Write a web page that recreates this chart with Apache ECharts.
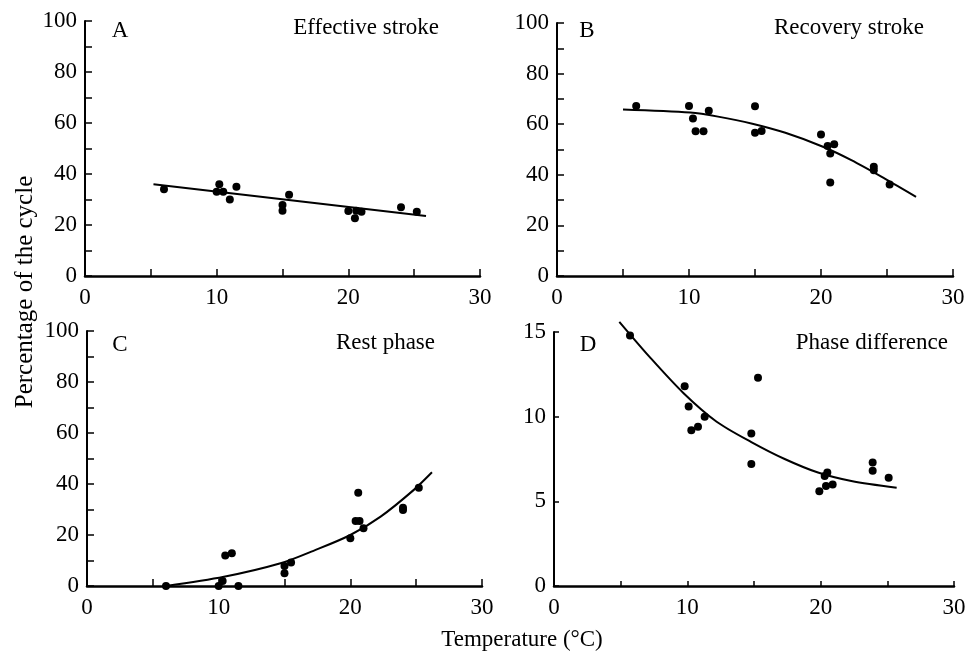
<!DOCTYPE html>
<html>
<head>
<meta charset="utf-8">
<script src="https://cdn.jsdelivr.net/npm/echarts@6/dist/echarts.min.js"></script>
<style>
html,body{margin:0;padding:0;background:#fff;}
#chart{width:970px;height:652px;}
</style>
</head>
<body>
<div id="chart"></div>
<script>
// ---- Data ----
// A: Effective stroke
const tempA = [6.0, 10.2, 10.0, 10.5, 11.0, 11.5, 15.0, 15.0, 15.5, 20.0, 20.5, 20.6, 21.0, 24.0, 25.2];
const valA  = [34.0, 36.0, 33.0, 33.0, 30.0, 35.0, 27.8, 25.6, 31.9, 25.5, 22.6, 25.6, 25.2, 27.0, 25.2];
const fitTempA = [5.2, 25.9];
const fitValA  = [36.0, 23.5];

// B: Recovery stroke
const tempB = [6.0, 10.0, 10.3, 10.5, 11.1, 11.5, 15.0, 15.0, 15.5, 20.0, 20.5, 21.0, 20.7, 20.7, 24.0, 24.0, 25.2];
const valB  = [67.2, 67.2, 62.3, 57.2, 57.2, 65.3, 67.1, 56.6, 57.3, 55.9, 51.4, 52.1, 48.4, 37.0, 43.2, 41.8, 36.2];
const fitTempB = [5.0, 10.1, 12.2, 14.8, 17.3, 20.1, 22.3, 24.8, 27.2];
const fitValB  = [65.8, 64.6, 63.0, 60.2, 56.6, 51.2, 45.8, 38.6, 31.3];

// C: Rest phase
const tempC = [6.0, 10.0, 10.3, 10.5, 11.0, 11.5, 15.0, 15.0, 15.5, 20.0, 20.4, 20.7, 20.6, 21.0, 24.0, 24.0, 25.2];
const valC  = [0.0, 0.0, 2.0, 12.0, 12.8, 0.0, 7.8, 5.0, 9.2, 18.7, 25.5, 25.5, 36.6, 22.6, 30.7, 29.8, 38.5];
const fitTempC = [6.0, 10.4, 14.7, 17.2, 20.0, 22.3, 24.8, 26.2];
const fitValC  = [0.0, 3.6, 8.9, 13.8, 20.0, 27.2, 37.6, 44.6];

// D: Phase difference
const tempD = [5.7, 9.8, 10.1, 10.3, 10.8, 11.3, 14.8, 14.8, 15.3, 19.9, 20.3, 20.5, 20.4, 20.9, 23.9, 23.9, 25.1];
const valD  = [14.8, 11.8, 10.6, 9.2, 9.4, 10.0, 9.0, 7.2, 12.3, 5.6, 6.5, 6.7, 5.9, 6.0, 7.3, 6.8, 6.4];
const fitTempD = [4.9, 7.2, 9.7, 12.2, 14.8, 17.3, 19.8, 22.3, 25.7];
const fitValD  = [15.6, 13.5, 11.4, 9.7, 8.5, 7.5, 6.7, 6.2, 5.8];

const xTicks = [0, 10, 20, 30];
const panelLetters = ['A', 'B', 'C', 'D'];
const panelTitles = ['Effective stroke', 'Recovery stroke', 'Rest phase', 'Phase difference'];
const yLabel = 'Percentage of the cycle';
const xLabel = 'Temperature (\u00B0C)';

// ---- Build chart ----
const FONT = '"Liberation Serif", "Times New Roman", serif';
const zip = (a, b) => a.map((v, i) => [v, b[i]]);

const grids = [
  {left: 85, top: 21, width: 395, height: 255},
  {left: 557, top: 23, width: 396, height: 253},
  {left: 87, top: 331, width: 395, height: 255},
  {left: 554, top: 332, width: 400, height: 254}
];

function xAxis(i) {
  return {
    gridIndex: i, type: 'value', min: 0, max: 30, interval: 5,
    axisLine: {onZero: false, lineStyle: {color: '#000', width: 2.5}},
    axisTick: {inside: true, length: i === 3 ? 5 : 7, lineStyle: {color: '#000', width: 1.5}},
    axisLabel: {
      color: '#000', fontFamily: FONT, fontSize: 23, margin: 10,
      formatter: v => (xTicks.indexOf(v) >= 0 ? String(v) : '')
    },
    splitLine: {show: false}
  };
}
function yAxis(i, max, interval, labelStep) {
  return {
    gridIndex: i, type: 'value', min: 0, max: max, interval: interval,
    axisLine: {onZero: false, lineStyle: {color: '#000', width: 2}},
    axisTick: {inside: true, length: i === 3 ? 5 : 7, lineStyle: {color: '#000', width: 1.5}},
    axisLabel: {
      color: '#000', fontFamily: FONT, fontSize: 23, margin: 8,
      formatter: v => (v % labelStep === 0 ? String(v) : '')
    },
    splitLine: {show: false}
  };
}

const scatterSets = [zip(tempA, valA), zip(tempB, valB), zip(tempC, valC), zip(tempD, valD)];
const fitSets = [zip(fitTempA, fitValA), zip(fitTempB, fitValB), zip(fitTempC, fitValC), zip(fitTempD, fitValD)];

const series = [];
for (let i = 0; i < 4; i++) {
  series.push({
    type: 'line', xAxisIndex: i, yAxisIndex: i, data: fitSets[i],
    smooth: i === 0 ? false : 0.3, showSymbol: false, clip: false,
    lineStyle: {color: '#000', width: 2}, silent: true, z: 2
  });
  series.push({
    type: 'scatter', xAxisIndex: i, yAxisIndex: i, data: scatterSets[i],
    symbol: 'circle', symbolSize: 8, itemStyle: {color: '#000', opacity: 1}, clip: false, z: 3
  });
}

const textPos = [
  {letter: [120, 31], title: [439, 28]},
  {letter: [587, 31], title: [924, 28]},
  {letter: [120, 345], title: [435, 343]},
  {letter: [588, 345], title: [948, 343]}
];
const graphics = [];
for (let i = 0; i < 4; i++) {
  graphics.push({
    type: 'text', x: textPos[i].letter[0], y: textPos[i].letter[1],
    style: {text: panelLetters[i], fill: '#000', font: '23px ' + FONT, textAlign: 'center', textVerticalAlign: 'middle'}
  });
  graphics.push({
    type: 'text', x: textPos[i].title[0], y: textPos[i].title[1],
    style: {text: panelTitles[i], fill: '#000', font: '23px ' + FONT, textAlign: 'right', textVerticalAlign: 'middle'}
  });
}
graphics.push({
  type: 'text', x: 25, y: 292, rotation: Math.PI / 2,
  style: {text: yLabel, fill: '#000', font: '25px ' + FONT, textAlign: 'center', textVerticalAlign: 'middle'}
});
graphics.push({
  type: 'text', x: 522, y: 640,
  style: {text: xLabel, fill: '#000', font: '23px ' + FONT, textAlign: 'center', textVerticalAlign: 'middle'}
});

const chart = echarts.init(document.getElementById('chart'), null, {renderer: 'canvas'});
chart.setOption({
  animation: false,
  backgroundColor: '#fff',
  grid: grids,
  xAxis: [0, 1, 2, 3].map(xAxis),
  yAxis: [yAxis(0, 100, 10, 20), yAxis(1, 100, 10, 20), yAxis(2, 100, 10, 20), yAxis(3, 15, 5, 5)],
  series: series,
  graphic: graphics
});
</script>
</body>
</html>
